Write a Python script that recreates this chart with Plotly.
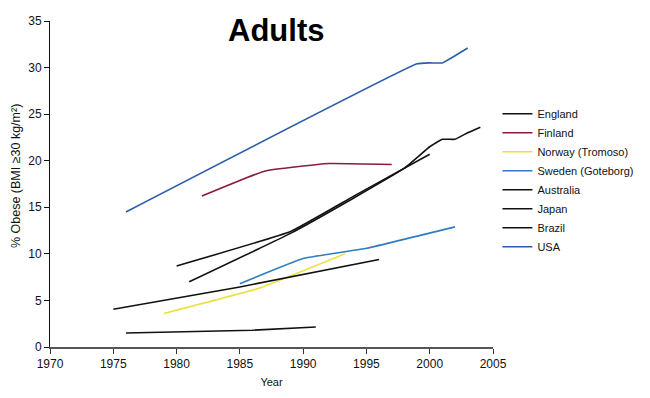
import plotly.graph_objects as go

# ---- data ----
england_x = [1981, 1989, 1994, 1998, 2000, 2001, 2002, 2003, 2004]
england_y = [7.0, 12.2, 16.0, 19.2, 21.5, 22.3, 22.3, 23.0, 23.6]

finland_x = [1982, 1987, 1992, 1997]
finland_y = [16.2, 18.9, 19.7, 19.6]

norway_x = [1979, 1986.5, 1993.3]
norway_y = [3.6, 6.3, 10.0]

sweden_x = [1985, 1990, 1995, 2002]
sweden_y = [6.8, 9.5, 10.6, 12.9]

australia_x = [1980, 1989, 1994, 2000]
australia_y = [8.7, 12.4, 16.2, 20.7]

japan_x = [1976, 1986, 1991]
japan_y = [1.5, 1.8, 2.15]

brazil_x = [1975, 1985, 1996]
brazil_y = [4.05, 6.45, 9.4]

usa_x = [1976, 1999, 2000, 2001, 2003]
usa_y = [14.5, 30.4, 30.5, 30.5, 32.1]

x_ticks = [1970, 1975, 1980, 1985, 1990, 1995, 2000, 2005]
y_ticks = [0, 5, 10, 15, 20, 25, 30, 35]

series = [
    ("England", england_x, england_y, "#111111"),
    ("Finland", finland_x, finland_y, "#8a1c3c"),
    ("Norway (Tromoso)", norway_x, norway_y, "#e9e23a"),
    ("Sweden (Goteborg)", sweden_x, sweden_y, "#2f7cc4"),
    ("Australia", australia_x, australia_y, "#111111"),
    ("Japan", japan_x, japan_y, "#111111"),
    ("Brazil", brazil_x, brazil_y, "#111111"),
    ("USA", usa_x, usa_y, "#2a5ea8"),
]

fig = go.Figure()
for name, xs, ys, col in series:
    fig.add_trace(go.Scatter(
        x=xs, y=ys, name=name, mode="lines",
        line=dict(color=col, width=1.6, shape="spline", smoothing=0.3),
    ))

font_family = "Arial, Liberation Sans, sans-serif"

fig.update_layout(
    width=650, height=398,
    margin=dict(l=50, r=157, t=21, b=51),
    paper_bgcolor="white", plot_bgcolor="white",
    font=dict(family=font_family, color="#111", size=11),
    title=dict(text="<b>Adults</b>", xref="container", yref="container",
               x=0.425, y=0.925, xanchor="center", yanchor="middle",
               font=dict(size=31, family=font_family, color="#000")),
    legend=dict(x=1.01, y=0.76, xanchor="left", yanchor="top",
                font=dict(size=11, family=font_family, color="#111"),
                bgcolor="rgba(0,0,0,0)", tracegroupgap=0, itemwidth=30),
    showlegend=True,
    annotations=[dict(
        text="% Obese (BMI ≥30 kg/m²)", textangle=-90,
        xref="paper", yref="paper", x=-0.077, y=0.524,
        xanchor="center", yanchor="middle", showarrow=False,
        font=dict(size=12.5, family=font_family, color="#111"),
    )],
)

fig.update_xaxes(
    range=[1970, 2005], tickvals=x_ticks, ticktext=[str(v) for v in x_ticks],
    showgrid=False, zeroline=False, showline=True, linecolor="#555", linewidth=1.5,
    ticks="outside", ticklen=5, tickcolor="#333", tickwidth=1,
    tickfont=dict(size=12, family=font_family, color="#111"),
    title=dict(text="Year", font=dict(size=11, family=font_family), standoff=8),
)
fig.update_yaxes(
    range=[0, 35], tickvals=y_ticks, ticktext=[str(v) for v in y_ticks],
    showgrid=False, zeroline=False, showline=True, linecolor="#111", linewidth=1,
    ticks="outside", ticklen=5, tickcolor="#111", tickwidth=1,
    tickfont=dict(size=12, family=font_family, color="#111"),
)

fig.write_html("out.html", post_script="document.body.style.margin='0';",
               config={"displayModeBar": False})
